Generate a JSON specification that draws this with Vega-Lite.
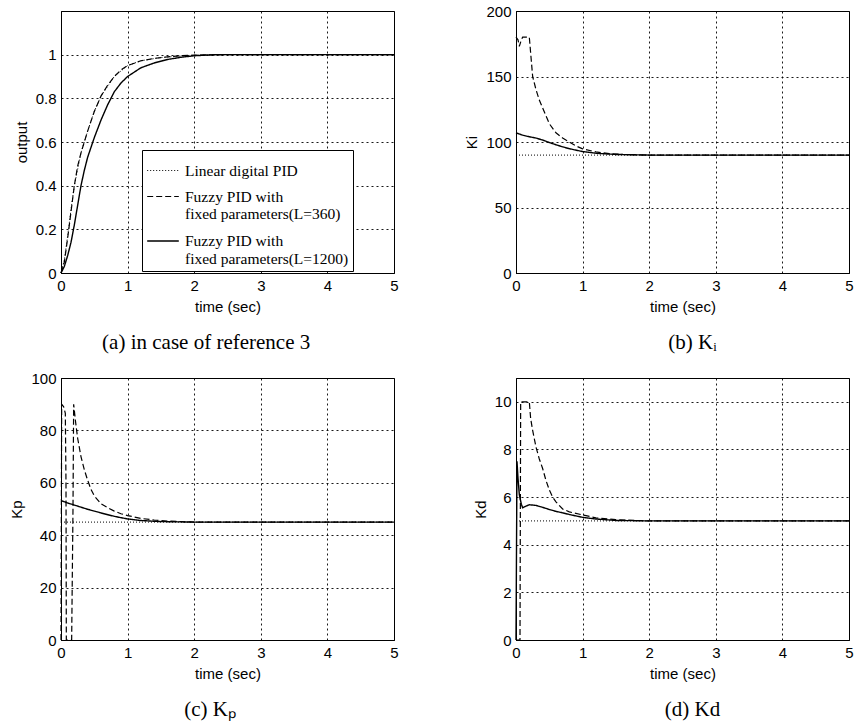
{
  "$schema": "https://vega.github.io/schema/vega-lite/v6.json",
  "padding": {"left": 9, "top": 3, "right": 0, "bottom": 0},
  "background": "white",
  "config": {
    "view": {"stroke": "black", "strokeWidth": 1},
    "axis": {"labelFont": "Liberation Sans", "labelFontSize": 15, "labelColor": "black", "titleFont": "Liberation Sans", "titleFontSize": 15, "titleFontWeight": "normal", "titleColor": "black", "domainColor": "black", "ticks": false, "gridColor": "black", "gridDash": [2, 3], "gridOpacity": 0.9, "gridWidth": 1, "labelPadding": 5, "labelFlush": false, "titlePadding": 6},
    "title": {"font": "Liberation Serif", "fontSize": 21, "fontWeight": "normal", "color": "black", "orient": "bottom", "anchor": "middle", "frame": "bounds", "offset": 18},
    "line": {"color": "black", "strokeCap": "butt", "clip": true}
  },
  "datasets": {
    "a": [
      {"t": 0, "v": 0, "s": "lin"}, {"t": 0.05, "v": 0.06, "s": "lin"}, {"t": 0.1, "v": 0.17, "s": "lin"}, {"t": 0.15, "v": 0.29, "s": "lin"}, {"t": 0.2, "v": 0.4, "s": "lin"}, {"t": 0.3, "v": 0.55, "s": "lin"}, {"t": 0.4, "v": 0.65, "s": "lin"}, {"t": 0.5, "v": 0.74, "s": "lin"}, {"t": 0.6, "v": 0.81, "s": "lin"}, {"t": 0.8, "v": 0.9, "s": "lin"}, {"t": 1.0, "v": 0.95, "s": "lin"}, {"t": 1.2, "v": 0.972, "s": "lin"}, {"t": 1.5, "v": 0.987, "s": "lin"}, {"t": 2.0, "v": 0.998, "s": "lin"}, {"t": 2.5, "v": 1, "s": "lin"}, {"t": 5, "v": 1, "s": "lin"},
      {"t": 0, "v": 0, "s": "f360"}, {"t": 0.05, "v": 0.05, "s": "f360"}, {"t": 0.1, "v": 0.16, "s": "f360"}, {"t": 0.15, "v": 0.28, "s": "f360"}, {"t": 0.2, "v": 0.4, "s": "f360"}, {"t": 0.25, "v": 0.49, "s": "f360"}, {"t": 0.3, "v": 0.55, "s": "f360"}, {"t": 0.35, "v": 0.6, "s": "f360"}, {"t": 0.4, "v": 0.65, "s": "f360"}, {"t": 0.5, "v": 0.74, "s": "f360"}, {"t": 0.6, "v": 0.81, "s": "f360"}, {"t": 0.7, "v": 0.86, "s": "f360"}, {"t": 0.8, "v": 0.9, "s": "f360"}, {"t": 0.9, "v": 0.93, "s": "f360"}, {"t": 1.0, "v": 0.95, "s": "f360"}, {"t": 1.2, "v": 0.972, "s": "f360"}, {"t": 1.4, "v": 0.983, "s": "f360"}, {"t": 1.6, "v": 0.99, "s": "f360"}, {"t": 1.8, "v": 0.995, "s": "f360"}, {"t": 2.0, "v": 0.998, "s": "f360"}, {"t": 2.5, "v": 1, "s": "f360"}, {"t": 5, "v": 1, "s": "f360"},
      {"t": 0, "v": 0, "s": "f1200"}, {"t": 0.05, "v": 0.03, "s": "f1200"}, {"t": 0.1, "v": 0.08, "s": "f1200"}, {"t": 0.15, "v": 0.14, "s": "f1200"}, {"t": 0.2, "v": 0.22, "s": "f1200"}, {"t": 0.25, "v": 0.31, "s": "f1200"}, {"t": 0.3, "v": 0.4, "s": "f1200"}, {"t": 0.35, "v": 0.47, "s": "f1200"}, {"t": 0.4, "v": 0.53, "s": "f1200"}, {"t": 0.5, "v": 0.62, "s": "f1200"}, {"t": 0.6, "v": 0.7, "s": "f1200"}, {"t": 0.7, "v": 0.77, "s": "f1200"}, {"t": 0.8, "v": 0.83, "s": "f1200"}, {"t": 0.9, "v": 0.87, "s": "f1200"}, {"t": 1.0, "v": 0.9, "s": "f1200"}, {"t": 1.2, "v": 0.94, "s": "f1200"}, {"t": 1.4, "v": 0.962, "s": "f1200"}, {"t": 1.6, "v": 0.978, "s": "f1200"}, {"t": 1.8, "v": 0.988, "s": "f1200"}, {"t": 2.0, "v": 0.995, "s": "f1200"}, {"t": 2.3, "v": 1, "s": "f1200"}, {"t": 5, "v": 1, "s": "f1200"}
    ],
    "b": [
      {"t": 0, "v": 90, "s": "lin"}, {"t": 5, "v": 90, "s": "lin"},
      {"t": 0, "v": 180, "s": "f360"}, {"t": 0.03, "v": 178, "s": "f360"}, {"t": 0.05, "v": 173, "s": "f360"}, {"t": 0.08, "v": 178, "s": "f360"}, {"t": 0.1, "v": 180, "s": "f360"}, {"t": 0.2, "v": 180, "s": "f360"}, {"t": 0.22, "v": 168, "s": "f360"}, {"t": 0.25, "v": 150, "s": "f360"}, {"t": 0.3, "v": 140, "s": "f360"}, {"t": 0.35, "v": 132, "s": "f360"}, {"t": 0.4, "v": 126, "s": "f360"}, {"t": 0.5, "v": 114, "s": "f360"}, {"t": 0.6, "v": 107, "s": "f360"}, {"t": 0.7, "v": 103, "s": "f360"}, {"t": 0.8, "v": 100, "s": "f360"}, {"t": 0.9, "v": 97, "s": "f360"}, {"t": 1.0, "v": 94.8, "s": "f360"}, {"t": 1.2, "v": 92.4, "s": "f360"}, {"t": 1.4, "v": 91.1, "s": "f360"}, {"t": 1.6, "v": 90.5, "s": "f360"}, {"t": 2.0, "v": 90, "s": "f360"}, {"t": 5, "v": 90, "s": "f360"},
      {"t": 0, "v": 107, "s": "f1200"}, {"t": 0.1, "v": 105.2, "s": "f1200"}, {"t": 0.2, "v": 104, "s": "f1200"}, {"t": 0.3, "v": 103, "s": "f1200"}, {"t": 0.4, "v": 101.5, "s": "f1200"}, {"t": 0.5, "v": 99.6, "s": "f1200"}, {"t": 0.6, "v": 97.9, "s": "f1200"}, {"t": 0.7, "v": 96.3, "s": "f1200"}, {"t": 0.8, "v": 94.9, "s": "f1200"}, {"t": 1.0, "v": 92.7, "s": "f1200"}, {"t": 1.2, "v": 91.4, "s": "f1200"}, {"t": 1.5, "v": 90.5, "s": "f1200"}, {"t": 2.0, "v": 90, "s": "f1200"}, {"t": 5, "v": 90, "s": "f1200"}
    ],
    "c": [
      {"t": 0, "v": 45, "s": "lin"}, {"t": 5, "v": 45, "s": "lin"},
      {"t": 0, "v": 0, "s": "f360"}, {"t": 0.01, "v": 90, "s": "f360"}, {"t": 0.04, "v": 89, "s": "f360"}, {"t": 0.065, "v": 86.5, "s": "f360"}, {"t": 0.075, "v": 60, "s": "f360"}, {"t": 0.08, "v": 0, "s": "f360"}, {"t": 0.16, "v": 0, "s": "f360"}, {"t": 0.18, "v": 50, "s": "f360"}, {"t": 0.19, "v": 90, "s": "f360"}, {"t": 0.22, "v": 83, "s": "f360"}, {"t": 0.25, "v": 77, "s": "f360"}, {"t": 0.3, "v": 70, "s": "f360"}, {"t": 0.35, "v": 65, "s": "f360"}, {"t": 0.4, "v": 61, "s": "f360"}, {"t": 0.45, "v": 57.5, "s": "f360"}, {"t": 0.5, "v": 55, "s": "f360"}, {"t": 0.6, "v": 52, "s": "f360"}, {"t": 0.7, "v": 50.5, "s": "f360"}, {"t": 0.8, "v": 49.2, "s": "f360"}, {"t": 0.9, "v": 48.2, "s": "f360"}, {"t": 1.0, "v": 47.5, "s": "f360"}, {"t": 1.2, "v": 46.4, "s": "f360"}, {"t": 1.4, "v": 45.8, "s": "f360"}, {"t": 1.6, "v": 45.4, "s": "f360"}, {"t": 1.8, "v": 45.2, "s": "f360"}, {"t": 2.0, "v": 45, "s": "f360"}, {"t": 5, "v": 45, "s": "f360"},
      {"t": 0, "v": 53.2, "s": "f1200"}, {"t": 0.1, "v": 52.3, "s": "f1200"}, {"t": 0.2, "v": 51.5, "s": "f1200"}, {"t": 0.3, "v": 50.7, "s": "f1200"}, {"t": 0.4, "v": 49.9, "s": "f1200"}, {"t": 0.5, "v": 49.2, "s": "f1200"}, {"t": 0.6, "v": 48.5, "s": "f1200"}, {"t": 0.8, "v": 47.2, "s": "f1200"}, {"t": 1.0, "v": 46.2, "s": "f1200"}, {"t": 1.2, "v": 45.6, "s": "f1200"}, {"t": 1.5, "v": 45.2, "s": "f1200"}, {"t": 2.0, "v": 45, "s": "f1200"}, {"t": 5, "v": 45, "s": "f1200"}
    ],
    "d": [
      {"t": 0, "v": 5, "s": "lin"}, {"t": 5, "v": 5, "s": "lin"},
      {"t": 0, "v": 0, "s": "f360"}, {"t": 0.06, "v": 0, "s": "f360"}, {"t": 0.07, "v": 10, "s": "f360"}, {"t": 0.2, "v": 10, "s": "f360"}, {"t": 0.22, "v": 9.3, "s": "f360"}, {"t": 0.25, "v": 8.8, "s": "f360"}, {"t": 0.3, "v": 8.1, "s": "f360"}, {"t": 0.35, "v": 7.6, "s": "f360"}, {"t": 0.4, "v": 7.2, "s": "f360"}, {"t": 0.45, "v": 6.7, "s": "f360"}, {"t": 0.5, "v": 6.3, "s": "f360"}, {"t": 0.55, "v": 6.0, "s": "f360"}, {"t": 0.6, "v": 5.8, "s": "f360"}, {"t": 0.7, "v": 5.5, "s": "f360"}, {"t": 0.8, "v": 5.38, "s": "f360"}, {"t": 1.0, "v": 5.25, "s": "f360"}, {"t": 1.2, "v": 5.13, "s": "f360"}, {"t": 1.5, "v": 5.05, "s": "f360"}, {"t": 2.0, "v": 5, "s": "f360"}, {"t": 5, "v": 5, "s": "f360"},
      {"t": 0, "v": 0, "s": "f1200"}, {"t": 0.015, "v": 7.5, "s": "f1200"}, {"t": 0.03, "v": 6.8, "s": "f1200"}, {"t": 0.05, "v": 6.1, "s": "f1200"}, {"t": 0.08, "v": 5.7, "s": "f1200"}, {"t": 0.1, "v": 5.55, "s": "f1200"}, {"t": 0.15, "v": 5.62, "s": "f1200"}, {"t": 0.2, "v": 5.68, "s": "f1200"}, {"t": 0.3, "v": 5.65, "s": "f1200"}, {"t": 0.4, "v": 5.57, "s": "f1200"}, {"t": 0.5, "v": 5.48, "s": "f1200"}, {"t": 0.6, "v": 5.4, "s": "f1200"}, {"t": 0.7, "v": 5.34, "s": "f1200"}, {"t": 0.8, "v": 5.27, "s": "f1200"}, {"t": 1.0, "v": 5.15, "s": "f1200"}, {"t": 1.2, "v": 5.08, "s": "f1200"}, {"t": 1.5, "v": 5.02, "s": "f1200"}, {"t": 2.0, "v": 5, "s": "f1200"}, {"t": 5, "v": 5, "s": "f1200"}
    ]
  },
  "columns": 2,
  "spacing": {"row": 16, "column": 65},
  "resolve": {"scale": {"strokeDash": "independent", "strokeWidth": "independent"}, "legend": {"strokeDash": "independent", "strokeWidth": "independent"}},
  "concat": [
    {
      "width": 333, "height": 262,
      "data": {"name": "a"},
      "title": {"text": "(a) in case of reference 3"},
      "mark": {"type": "line"},
      "encoding": {
        "x": {"field": "t", "type": "quantitative", "scale": {"domain": [0, 5], "nice": false}, "axis": {"values": [0, 1, 2, 3, 4, 5], "title": "time (sec)", "grid": true}},
        "y": {"field": "v", "type": "quantitative", "scale": {"domain": [0, 1.2], "nice": false}, "axis": {"values": [0, 0.2, 0.4, 0.6, 0.8, 1], "format": "~g", "title": "output", "grid": true}},
        "strokeDash": {"field": "s", "type": "nominal", "scale": {"domain": ["lin", "f360", "f1200"], "range": [[1, 2], [6, 3], [1, 0]]},
          "legend": {"orient": "none", "legendX": 81, "legendY": 139, "title": null, "symbolType": "stroke", "symbolSize": 1000, "symbolStrokeColor": "black", "symbolStrokeWidth": 1.4, "labelFont": "Liberation Serif", "labelFontSize": 15.5, "labelColor": "black", "labelLimit": 300, "fillColor": "white", "strokeColor": "black", "padding": 4, "rowPadding": 1, "labelOffset": 5,
            "labelExpr": "datum.label == 'lin' ? 'Linear digital PID' : datum.label == 'f360' ? ['Fuzzy PID with', '\u00a0\u00a0\u00a0\u00a0fixed parameters(L=360)'] : ['Fuzzy PID with', '\u00a0\u00a0\u00a0\u00a0fixed parameters(L=1200)']"}},
        "strokeWidth": {"field": "s", "type": "nominal", "scale": {"domain": ["lin", "f360", "f1200"], "range": [1, 1.4, 1.6]}, "legend": null}
      }
    },
    {
      "width": 333, "height": 262,
      "data": {"name": "b"},
      "title": {"text": "(b) Kᵢ", "frame": "group", "dx": 10},
      "mark": {"type": "line"},
      "encoding": {
        "x": {"field": "t", "type": "quantitative", "scale": {"domain": [0, 5], "nice": false}, "axis": {"values": [0, 1, 2, 3, 4, 5], "title": "time (sec)", "grid": true}},
        "y": {"field": "v", "type": "quantitative", "scale": {"domain": [0, 200], "nice": false}, "axis": {"values": [0, 50, 100, 150, 200], "title": "Ki", "grid": true}},
        "strokeDash": {"field": "s", "type": "nominal", "scale": {"domain": ["lin", "f360", "f1200"], "range": [[1, 2], [6, 3], [1, 0]]}, "legend": null},
        "strokeWidth": {"field": "s", "type": "nominal", "scale": {"domain": ["lin", "f360", "f1200"], "range": [1, 1.4, 1.6]}, "legend": null}
      }
    },
    {
      "width": 333, "height": 262,
      "data": {"name": "c"},
      "title": {"text": "(c) Kₚ", "dx": 6},
      "mark": {"type": "line"},
      "encoding": {
        "x": {"field": "t", "type": "quantitative", "scale": {"domain": [0, 5], "nice": false}, "axis": {"values": [0, 1, 2, 3, 4, 5], "title": "time (sec)", "grid": true}},
        "y": {"field": "v", "type": "quantitative", "scale": {"domain": [0, 100], "nice": false}, "axis": {"values": [0, 20, 40, 60, 80, 100], "title": "Kp", "grid": true}},
        "strokeDash": {"field": "s", "type": "nominal", "scale": {"domain": ["lin", "f360", "f1200"], "range": [[1, 2], [6, 3], [1, 0]]}, "legend": null},
        "strokeWidth": {"field": "s", "type": "nominal", "scale": {"domain": ["lin", "f360", "f1200"], "range": [1, 1.4, 1.6]}, "legend": null}
      }
    },
    {
      "width": 333, "height": 262,
      "data": {"name": "d"},
      "title": {"text": "(d) Kd", "frame": "group", "dx": 10},
      "mark": {"type": "line"},
      "encoding": {
        "x": {"field": "t", "type": "quantitative", "scale": {"domain": [0, 5], "nice": false}, "axis": {"values": [0, 1, 2, 3, 4, 5], "title": "time (sec)", "grid": true}},
        "y": {"field": "v", "type": "quantitative", "scale": {"domain": [0, 11], "nice": false}, "axis": {"values": [0, 2, 4, 6, 8, 10], "title": "Kd", "grid": true}},
        "strokeDash": {"field": "s", "type": "nominal", "scale": {"domain": ["lin", "f360", "f1200"], "range": [[1, 2], [6, 3], [1, 0]]}, "legend": null},
        "strokeWidth": {"field": "s", "type": "nominal", "scale": {"domain": ["lin", "f360", "f1200"], "range": [1, 1.4, 1.6]}, "legend": null}
      }
    }
  ]
}
